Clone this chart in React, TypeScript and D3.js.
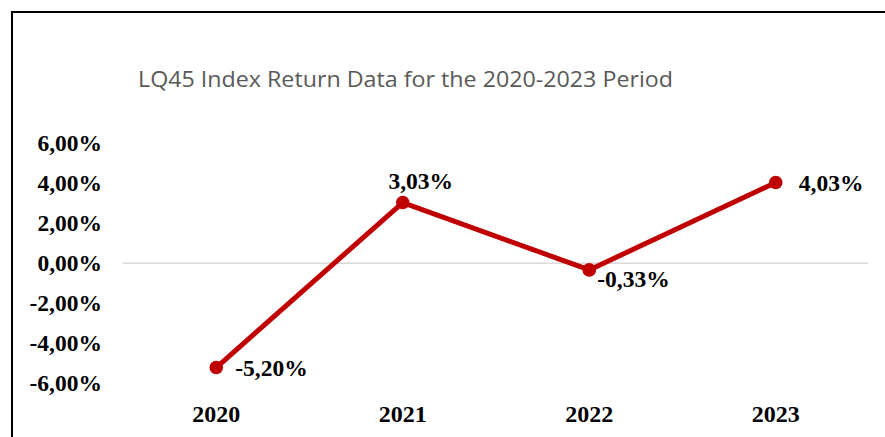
import React from "react";
import * as d3 from "d3";

const categories = ["2020", "2021", "2022", "2023"];
const returns = [-5.2, 3.03, -0.33, 4.03];
const dataLabels = ["-5,20%", "3,03%", "-0,33%", "4,03%"];
const yTicks = [-6, -4, -2, 0, 2, 4, 6];
const yTickLabels = ["-6,00%", "-4,00%", "-2,00%", "0,00%", "2,00%", "4,00%", "6,00%"];
const title = "LQ45 Index Return Data for the 2020-2023 Period";

// label placement relative to each point: [dx, dy, anchor]
const labelPlacement: [number, number, string][] = [
  [19, 8.5, "start"],
  [18, -13.5, "middle"],
  [8, 17, "start"],
  [23, 8.3, "start"],
];

const W = 885;
const H = 437;

export default function App() {
  const x = d3.scaleBand<string>().domain(categories).range([123, 869]).padding(0);
  const y = d3.scaleLinear().domain([-6, 6]).range([383.6, 143]);
  const cx = (c: string) => (x(c) as number) + x.bandwidth() / 2;

  const line = d3
    .line<number>()
    .x((_, i) => cx(categories[i]))
    .y((d) => y(d));

  const serif = "'Liberation Serif', 'Times New Roman', serif";

  return (
    <svg
      width={W}
      height={H}
      style={{ position: "absolute", left: 0, top: 0, background: "#fff" }}
    >
      <rect x={0} y={0} width={W} height={H} fill="#fff" />
      <path d={`M12,${H} V12 H${W}`} fill="none" stroke="#000" strokeWidth={2} />
      <text
        x={138}
        y={86.5}
        fontFamily="'Open Sans', sans-serif"
        fontSize={22.5}
        fill="#595959"
        textLength={535}
        lengthAdjust="spacingAndGlyphs"
      >
        {title}
      </text>
      <line
        x1={123}
        x2={868}
        y1={y(0)}
        y2={y(0)}
        stroke="#d9d9d9"
        strokeWidth={1.5}
      />
      {yTicks.map((t, i) => (
        <text
          key={t}
          x={102}
          y={y(t) + 7.8}
          textAnchor="end"
          fontFamily={serif}
          fontWeight="bold"
          fontSize={23.5}
          fill="#000"
        >
          {yTickLabels[i]}
        </text>
      ))}
      {categories.map((c) => (
        <text
          key={c}
          x={cx(c)}
          y={421.5}
          textAnchor="middle"
          fontFamily={serif}
          fontWeight="bold"
          fontSize={24}
          fill="#000"
        >
          {c}
        </text>
      ))}
      <path
        d={line(returns) || ""}
        fill="none"
        stroke="#C00000"
        strokeWidth={5}
        strokeLinejoin="round"
      />
      {returns.map((v, i) => (
        <circle key={i} cx={cx(categories[i])} cy={y(v)} r={6.8} fill="#C00000" />
      ))}
      {returns.map((v, i) => (
        <text
          key={"l" + i}
          x={cx(categories[i]) + labelPlacement[i][0]}
          y={y(v) + labelPlacement[i][1]}
          textAnchor={labelPlacement[i][2] as any}
          fontFamily={serif}
          fontWeight="bold"
          fontSize={23.5}
          fill="#000"
        >
          {dataLabels[i]}
        </text>
      ))}
    </svg>
  );
}
